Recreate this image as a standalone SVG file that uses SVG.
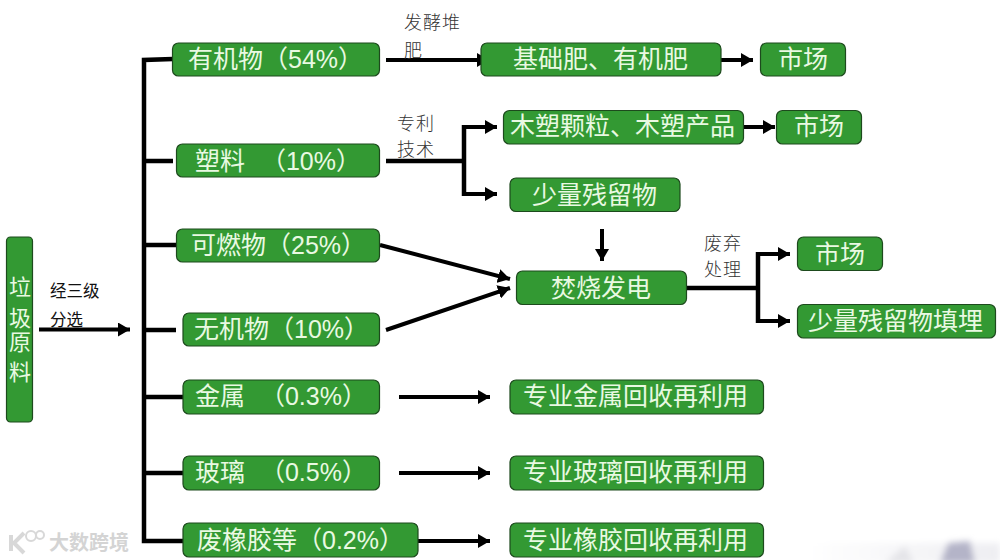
<svg xmlns="http://www.w3.org/2000/svg" width="1000" height="560" viewBox="0 0 1000 560">
<style>
.n{fill:#339933;stroke:#1d4a1d;stroke-width:1.2}
.t{font-family:"Liberation Sans","Noto Sans CJK SC",sans-serif;font-size:25px;fill:#e9f9e2}
.l{font-family:"Noto Sans CJK SC",sans-serif;font-weight:300;font-size:18px;letter-spacing:1px;fill:#333}
.s{font-family:"Noto Sans CJK SC",sans-serif;font-size:16.5px;fill:#111}
.c{fill:none;stroke:#000;stroke-width:4.5}
.a{fill:none;stroke:#000;stroke-width:4;marker-end:url(#h)}
.w{font-family:"Noto Sans CJK SC",sans-serif;font-weight:700;font-size:20px;fill:#d4d4d4}
</style>
<defs>
<marker id="h" markerUnits="userSpaceOnUse" markerWidth="14" markerHeight="14" refX="12" refY="7" orient="auto"><path d="M0 0L12 7L0 14Z" fill="#000"/></marker>
<linearGradient id="g" x1="0" x2="1" y1="0" y2="0"><stop offset="0" stop-color="#fff"/><stop offset="1" stop-color="#eeeef2"/></linearGradient>
<filter id="b" x="-30%" y="-30%" width="160%" height="160%"><feGaussianBlur stdDeviation="3"/></filter>
</defs>
<rect width="1000" height="560" fill="#fff"/>
<g id="backdrop" filter="url(#b)">
<rect x="805" y="543" width="195" height="20" fill="url(#g)"/>
<path d="M885 563L905 546L914 563Z" fill="#e4e4e8"/>
<path d="M940 563L948 543L970 541L975 563Z" fill="#b4b4c8"/>
</g>
<g id="connectors">
<path class="c" d="M173 59L144 60V541H183"/>
<path class="c" d="M146 161H173M146 245H177M146 330H176M146 397H183M146 473H183"/>
<path class="a" d="M39 329.500H130"/>
<path class="a" d="M386 60H489"/>
<path class="a" d="M721 60H753"/>
<path class="c" d="M386 161H464"/>
<path class="c" d="M464 125V196"/>
<path class="a" d="M462 127H497"/>
<path class="a" d="M462 194H497"/>
<path class="a" d="M743 127H775"/>
<path class="a" d="M602 229V261"/>
<path class="a" d="M380 245L510 279"/>
<path class="a" d="M386 330L510 288"/>
<path class="c" d="M687 288H758"/>
<path class="c" d="M758 252V323"/>
<path class="a" d="M756 254H790"/>
<path class="a" d="M756 321H790"/>
<path class="a" d="M399 397H490"/>
<path class="a" d="M399 473H490"/>
<path class="a" d="M418 541H490"/>
</g>
<g id="n-source"><rect class="n" x="6.500" y="237" width="26" height="185" rx="4"/>
<text class="t" x="9" y="295" style="font-size:22px">垃</text><text class="t" x="9" y="326" style="font-size:22px">圾</text><text class="t" x="9" y="350" style="font-size:22px">原</text><text class="t" x="9" y="380" style="font-size:22px">料</text></g>
<g id="n-organic"><rect class="n" x="172.500" y="43" width="207" height="33" rx="6"/><text class="t" x="188" y="68">有机物（54%）</text></g>
<g id="n-plastic"><rect class="n" x="176.500" y="144" width="203" height="33" rx="6"/><text class="t" x="195" y="170">塑料 <tspan dx="9">（10%）</tspan></text></g>
<g id="n-combustible"><rect class="n" x="176.500" y="229" width="203" height="33" rx="6"/><text class="t" x="191" y="254">可燃物（25%）</text></g>
<g id="n-inorganic"><rect class="n" x="183" y="313" width="196.500" height="33" rx="6"/><text class="t" x="194" y="338">无机物（10%）</text></g>
<g id="n-metal"><rect class="n" x="183" y="380" width="196.500" height="34" rx="6"/><text class="t" x="195" y="405">金属 <tspan dx="8">（0.3%）</tspan></text></g>
<g id="n-glass"><rect class="n" x="183" y="456" width="196.500" height="34" rx="6"/><text class="t" x="195" y="481">玻璃 <tspan dx="8">（0.5%）</tspan></text></g>
<g id="n-rubber"><rect class="n" x="183" y="523" width="235" height="34" rx="6"/><text class="t" x="197" y="549">废橡胶等（0.2%）</text></g>
<g id="n-fertilizer"><rect class="n" x="481" y="43" width="240" height="33" rx="6"/><text class="t" x="513" y="68">基础肥、有机肥</text></g>
<g id="n-market1"><rect class="n" x="760.500" y="43" width="85" height="33" rx="6"/><text class="t" x="778" y="68">市场</text></g>
<g id="n-wood"><rect class="n" x="503.500" y="110.500" width="240" height="33.500" rx="6"/><text class="t" x="510" y="135">木塑颗粒、木塑产品</text></g>
<g id="n-market2"><rect class="n" x="776.500" y="110.500" width="85" height="33.500" rx="6"/><text class="t" x="794" y="135">市场</text></g>
<g id="n-residue"><rect class="n" x="510" y="178" width="170" height="33.500" rx="6"/><text class="t" x="532" y="204">少量残留物</text></g>
<g id="n-incinerate"><rect class="n" x="516.500" y="271" width="170" height="33.500" rx="6"/><text class="t" x="551" y="297">焚烧发电</text></g>
<g id="n-market3"><rect class="n" x="797.500" y="237" width="85" height="33.500" rx="6"/><text class="t" x="815" y="263">市场</text></g>
<g id="n-landfill"><rect class="n" x="797.500" y="304.500" width="198" height="33.500" rx="6"/><text class="t" x="808" y="330">少量残留物填埋</text></g>
<g id="n-rec-metal"><rect class="n" x="510" y="380" width="253.500" height="34" rx="6"/><text class="t" x="523" y="405">专业金属回收再利用</text></g>
<g id="n-rec-glass"><rect class="n" x="510" y="456" width="253.500" height="34" rx="6"/><text class="t" x="523" y="481">专业玻璃回收再利用</text></g>
<g id="n-rec-rubber"><rect class="n" x="510" y="523" width="253.500" height="34" rx="6"/><text class="t" x="523" y="549">专业橡胶回收再利用</text></g>
<g id="labels">
<text class="l" x="404" y="29">发酵堆</text><text class="l" x="404" y="57">肥</text>
<text class="l" x="397" y="129.500">专利</text><text class="l" x="397" y="155.800">技术</text>
<text class="l" x="704" y="249.500">废弃</text><text class="l" x="704" y="275.800">处理</text>
<text class="s" x="50" y="297">经三级</text><text class="s" x="50" y="326">分选</text>
</g>
<g id="watermark">
<path d="M11 535V551M24 533L14 543L24 553" fill="none" stroke="#d8d8d8" stroke-width="4"/>
<circle cx="31" cy="536" r="5" fill="none" stroke="#d8d8d8" stroke-width="2"/><circle cx="40" cy="535" r="4" fill="none" stroke="#d8d8d8" stroke-width="2"/>
<text class="w" x="49" y="550">大数跨境</text>
</g>
</svg>
